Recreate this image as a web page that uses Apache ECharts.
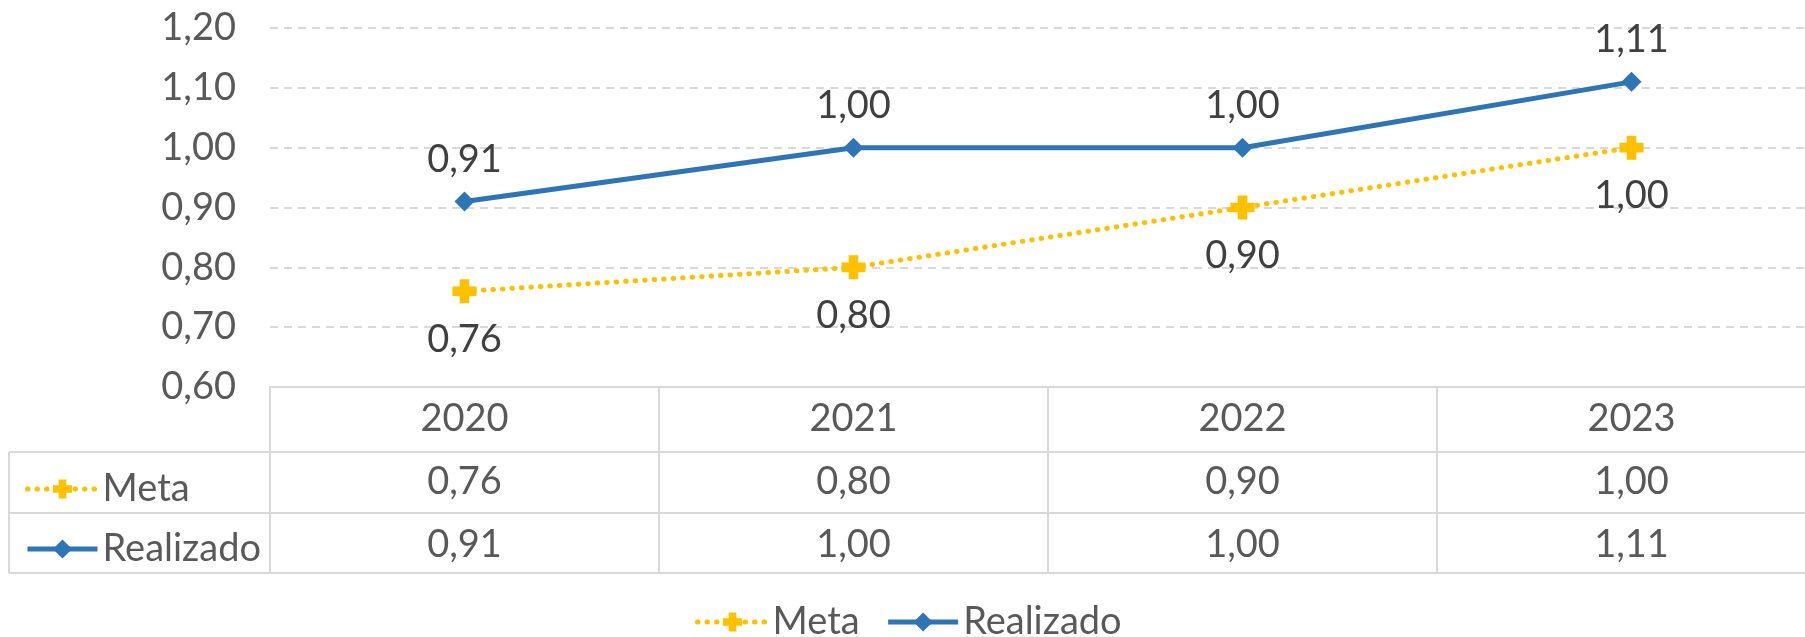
<!DOCTYPE html>
<html>
<head>
<meta charset="utf-8">
<script src="https://cdn.jsdelivr.net/npm/echarts@6/dist/echarts.min.js"></script>
<style>
  body { margin: 0; background: #fff; overflow: hidden; }
  /* o gráfico original é cortado à direita, por isso o div é mais largo que a janela */
  #main { width: 1826px; height: 637px; }
</style>
</head>
<body>
<div id="main"></div>
<script>
// dados
var anos = ['2020', '2021', '2022', '2023']
var meta = [0.76, 0.80, 0.90, 1.00]
var realizado = [0.91, 1.00, 1.00, 1.11]
var yTicks = [0.6, 0.7, 0.8, 0.9, 1.0, 1.1, 1.2]

var fonte = 'Lato'
var cinza = '#595959'
var linhaTabela = '#D9D9D9'

function fmt(v) {
    return v.toFixed(2).replace('.', ',')
}

var plusPath = 'path://M3,0 H7 V3 H10 V7 H7 V10 H3 V7 H0 V3 H3 Z'

var myChart = echarts.init(document.getElementById('main'))

var legendaBase = {
    data: ['Meta', 'Realizado'],
    itemWidth: 70,
    itemHeight: 24,
    lineStyle: { width: 5 }
}

var option = {
    animation: false,
    textStyle: { fontFamily: fonte },
    grid: { left: 270, right: 0, top: 28, bottom: 250 },
    legend: [
        Object.assign({}, legendaBase, {
            // legenda de baixo
            left: 690,
            top: 598,
            itemGap: 26,
            textStyle: { color: cinza, fontSize: 38, lineHeight: 38, fontFamily: fonte }
        }),
        Object.assign({}, legendaBase, {
            // legenda dentro da tabela
            orient: 'vertical',
            left: 20,
            top: 464,
            itemGap: 20,
            textStyle: { color: cinza, fontSize: 38, lineHeight: 40, fontFamily: fonte }
        })
    ],
    xAxis: {
        type: 'category',
        data: anos,
        boundaryGap: true,
        axisLine: { lineStyle: { color: linhaTabela, width: 2 } },
        axisTick: { show: true, interval: 0, length: 186, lineStyle: { color: linhaTabela, width: 2 } },
        axisLabel: {
            interval: 0,
            margin: 1,
            formatter: function (v, i) {
                return '{a|' + v + '}\n{b|' + fmt(meta[i]) + '}\n{a|' + fmt(realizado[i]) + '}'
            },
            rich: {
                a: { color: cinza, fontSize: 38, lineHeight: 62, fontFamily: fonte },
                b: { color: cinza, fontSize: 38, lineHeight: 64, fontFamily: fonte }
            }
        }
    },
    yAxis: {
        type: 'value',
        min: yTicks[0],
        max: yTicks[yTicks.length - 1],
        interval: 0.1,
        axisLine: { show: false },
        axisTick: { show: false },
        axisLabel: {
            margin: 34,
            color: cinza,
            fontSize: 38,
            fontFamily: fonte,
            formatter: function (v) { return fmt(v) }
        },
        splitLine: { lineStyle: { color: linhaTabela, type: [8, 6], width: 2 } }
    },
    graphic: [
        // linhas da tabela de dados
        { type: 'line', shape: { x1: 9, y1: 452, x2: 1826, y2: 452 }, style: { stroke: linhaTabela, lineWidth: 2 }, silent: true },
        { type: 'line', shape: { x1: 9, y1: 513, x2: 1826, y2: 513 }, style: { stroke: linhaTabela, lineWidth: 2 }, silent: true },
        { type: 'line', shape: { x1: 9, y1: 573, x2: 1826, y2: 573 }, style: { stroke: linhaTabela, lineWidth: 2 }, silent: true },
        { type: 'line', shape: { x1: 9, y1: 452, x2: 9, y2: 573 }, style: { stroke: linhaTabela, lineWidth: 2 }, silent: true }
    ],
    series: [
        {
            name: 'Meta',
            type: 'line',
            data: meta,
            symbol: plusPath,
            symbolSize: 24,
            itemStyle: { color: '#FFC000' },
            lineStyle: { color: '#FFC000', width: 5, type: [0.5, 9], cap: 'round' },
            label: {
                show: true,
                position: 'bottom',
                distance: 17,
                color: '#404040',
                fontSize: 38,
                fontFamily: fonte,
                formatter: function (p) { return fmt(p.value) }
            }
        },
        {
            name: 'Realizado',
            type: 'line',
            data: realizado,
            symbol: 'diamond',
            symbolSize: 20,
            itemStyle: { color: '#2E75B6' },
            lineStyle: { color: '#2E75B6', width: 5 },
            label: {
                show: true,
                position: 'top',
                distance: 13,
                color: '#404040',
                fontSize: 38,
                fontFamily: fonte,
                formatter: function (p) { return fmt(p.value) }
            }
        }
    ]
}

myChart.setOption(option)
</script>
</body>
</html>
